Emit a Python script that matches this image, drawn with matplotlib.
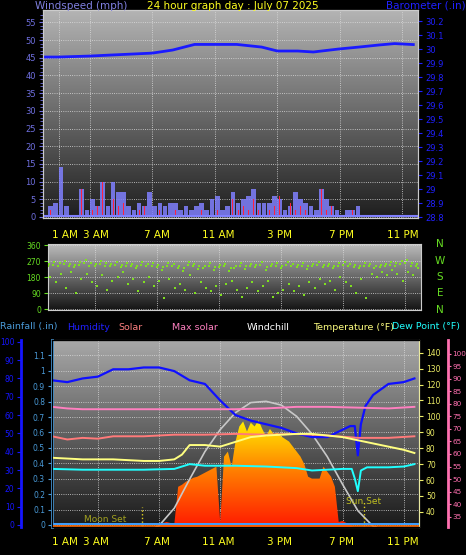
import matplotlib
matplotlib.use("Agg")
import matplotlib.pyplot as plt
import numpy as np
from matplotlib.colors import LinearSegmentedColormap

# ---------------- data ----------------
wind_hours = [i / 3 for i in range(72)]
wind_avg = [0, 3, 4, 14, 3, 0, 0, 8, 2, 5, 3, 10, 3, 10, 7, 7, 3, 2, 4, 3, 7, 3, 4, 3,
            4, 4, 2, 3, 2, 3, 4, 2, 5, 6, 2, 3, 7, 4, 5, 6, 8, 4, 4, 4, 6, 5, 2, 3,
            7, 5, 4, 3, 2, 8, 5, 3, 2, 0, 2, 2, 3, 0, 0, 0, 0, 0, 0, 0, 0, 0, 0, 0]
wind_gust = [0, 2, 0, 7, 0, 0, 0, 8, 0, 2, 3, 10, 0, 5, 3, 4, 0, 0, 2, 3, 0, 0, 2, 0,
             0, 2, 0, 1, 0, 0, 2, 0, 3, 2, 0, 0, 5, 2, 3, 2, 5, 2, 0, 2, 3, 6, 0, 4,
             2, 3, 2, 0, 0, 8, 2, 3, 0, 0, 0, 2, 0, 0, 0, 0, 0, 0, 0, 0, 0, 0, 0, 0]
baro_hours = [0, 1, 3, 4.3, 7, 8.3, 9.7, 12.4, 14, 15, 16.3, 17.3, 18.9, 20.2, 21.5, 22.5, 23.7]
baro = [29.943, 29.943, 29.95, 29.957, 29.971, 29.993, 30.033, 30.033, 30.014,
        29.986, 29.986, 29.979, 30.0, 30.014, 30.029, 30.039, 30.032]

dir_a = [240, 250, 245, 255, 240, 235, 250, 260, 245, 240, 255, 245, 240, 250, 235, 245, 240, 230,
         250, 240, 245, 235, 220, 245, 240, 230, 215, 250, 240, 225, 230, 245, 220, 235, 240, 215,
         230, 245, 225, 240, 235, 250, 220, 240, 245, 230, 250, 240, 235, 245, 225, 240, 250, 235,
         240, 230, 245, 250, 240, 235, 230, 245, 240, 230, 235, 240, 250, 245, 255, 260, 245, 240]
dir_b = [180, 150, 200, 120, 210, 90, 170, 200, 150, 130, 190, 110, 160, 180, 210, 140, 170, 100,
         150, 180, 130, 160, 60, 170, 120, 140, 110, 190, 90, 150, 120, 100, 130, 80, 140, 160,
         110, 70, 120, 150, 100, 130, 160, 70, 90, 110, 140, 100, 130, 80, 150, 120, 170, 140,
         160, 110, 180, 150, 130, 90, 170, 60, 200, 180, 210, 190, 220, 200, 160, 210, 190, 230]

hum_hours = [0, 1, 2, 3, 4, 5, 6, 7, 8, 9, 10, 11, 12, 13, 14, 15, 16, 17, 18, 19,
             19.5, 19.8, 20.0, 20.2, 20.5, 21, 22, 23, 23.7]
humidity = [79, 78, 80, 81, 85, 85, 86, 86, 84, 79, 77, 68, 60, 57, 55, 53, 50, 48, 48, 52,
            54, 54, 38, 55, 65, 71, 77, 78, 80]
t_hours = [0, 2, 4, 6, 7, 8, 8.5, 9, 10, 11, 12, 13, 14, 15, 16, 17, 18, 19, 20, 21, 22, 23, 23.7]
temperature = [74, 73, 73, 72, 72, 73, 76, 82, 82, 81, 84, 87, 88, 88.5, 89, 89, 88, 87,
               85, 83, 81, 79, 77]
dew_hours = [0, 2, 4, 6, 8, 9, 10, 12, 14, 16, 17, 18, 19, 19.6, 19.8, 20.0, 20.2, 20.6, 22, 23, 23.7]
dewpoint = [67, 66.5, 66.5, 66.5, 67, 70, 69, 69, 68.5, 67.5, 66, 66.5, 67, 67, 61, 53, 66, 68, 68, 68.5, 70]
salmon_hours = [0, 1, 2, 3, 4, 6, 8, 10, 12, 14, 16, 18, 20, 22, 23.7]
salmon = [87.5, 85.5, 86.5, 86, 87.5, 87.5, 88.5, 88.5, 89, 88.5, 89, 88, 86.5, 86.5, 87.5]
pink_hours = [0, 1, 2, 4, 8, 12, 14, 16, 18, 20, 22, 23.7]
pink = [106, 105, 104.5, 104.5, 104.5, 104.5, 105, 106, 106, 105.5, 105, 106]

solar_hours = [6.75 + 0.25 * i for i in range(53)]
solar = [0, 16, 32, 40, 32, 24, 320, 336, 360, 376, 392, 400, 416, 432, 448, 464, 480, 40,
         560, 600, 480, 680, 800, 840, 760, 830, 800, 850, 780, 720, 780, 740, 750, 720, 700,
         680, 640, 600, 560, 500, 400, 385, 385, 385, 480, 440, 400, 320, 40, 48, 32, 16, 0]
maxsol_hours = [6.8, 7, 8, 9, 10, 11, 12, 13, 14, 15, 16, 17, 18, 19, 20, 21, 21.2]
maxsolar = [0, 10, 150, 380, 600, 775, 910, 990, 1000, 970, 880, 740, 560, 340, 130, 5, 0]

tick_hours = [1, 3, 7, 11, 15, 19, 23]
tick_labels = ["1 AM", "3 AM", "7 AM", "11 AM", "3 PM", "7 PM", "11 PM"]

# ---------------- figure ----------------
W, H = 466, 555
fig = plt.figure(figsize=(W / 100, H / 100), dpi=100, facecolor="black")

def fx(px): return px / W
def fy(py): return 1 - py / H

def panel(x0, y0, x1, y1, top, bot):
    ax = fig.add_axes([fx(x0), fy(y1), fx(x1 - x0), (y1 - y0) / H])
    ax.set_facecolor("black")
    g = np.linspace(0, 1, 256).reshape(-1, 1)
    cm = LinearSegmentedColormap.from_list("g", [top, bot])
    ax.imshow(g, aspect="auto", cmap=cm, extent=[0, 1, 0, 1], transform=ax.transAxes, zorder=0)
    ax.set_xlim(0, 24)
    for s in ax.spines.values():
        s.set_color("#cccccc")
    ax.set_xticks([3, 7, 11, 15, 19, 23])
    ax.grid(True, axis="x", color="#dddddd", ls=":", lw=0.6)
    ax.tick_params(axis="x", length=0, labelbottom=False)
    return ax

fs = 7.5
tfs = 6
# ---- top panel ----
ax1 = panel(43, 10, 418, 218, "#b4b4b4", "#1e1e1e")
ax1.set_ylim(-0.3, 58.5)
ax1.set_yticks(range(0, 56, 5))
ax1.set_yticks(range(0, 58), minor=True)
ax1.tick_params(axis="y", colors="#6f6fdf", labelsize=tfs, length=3, pad=2)
ax1.tick_params(axis="y", which="minor", length=2, colors="#6f6fdf")
ax1.grid(True, axis="y", color="#dddddd", ls=":", lw=0.6)
ax1.bar(wind_hours, wind_avg, width=0.3, align="edge", color="#8080ff", alpha=0.85, zorder=2)
ax1.bar([h + 0.12 for h in wind_hours], wind_gust, width=0.06, align="edge", color="#ff2040", zorder=3)
ax1.axhline(0.3, color="#8080ff", lw=1.5, zorder=3)
ax1b = ax1.twinx()
ax1b.set_ylim(28.793, 30.279)
ax1b.set_yticks([28.8 + 0.1 * i for i in range(15)])
ax1b.set_yticklabels([f"{28.8 + 0.1 * i:.1f}".rstrip("0").rstrip(".") for i in range(15)])
ax1b.tick_params(axis="y", colors="#2020ff", labelsize=tfs, length=3, pad=2)
ax1b.plot(baro_hours, baro, color="#1a1aff", lw=2)
for s in ax1b.spines.values():
    s.set_color("#cccccc")
ax1.set_xticks(tick_hours)
fig.text(fx(35), fy(6), "Windspeed (mph)", color="#8080e0", fontsize=fs, va="center")
fig.text(fx(233), fy(6), "24 hour graph day : July 07 2025", color="#ffff20", fontsize=fs, ha="center", va="center")
fig.text(fx(466), fy(6), "Barometer (.in)", color="#2020ff", fontsize=fs, ha="right", va="center")
for h, l in zip(tick_hours, tick_labels):
    fig.text(fx(50 + h * 15.33), fy(235), l, color="#ffff20", fontsize=fs, ha="center", va="center")
ax1.grid(True, axis="x", color="#dddddd", ls=":", lw=0.6)

# ---- middle panel ----
ax2 = panel(48, 244, 421, 310, "#bcbcbc", "#141414")
ax2.set_ylim(-5, 366)
ax2.set_yticks([0, 90, 180, 270, 360])
ax2.tick_params(axis="y", colors="#66dd22", labelsize=5.5, length=3, pad=2)
ax2.grid(True, axis="y", color="#dddddd", ls=":", lw=0.6)
ax2.scatter(wind_hours, dir_a, s=3, marker="s", color="#7fe020", zorder=3, lw=0)
ax2.scatter([h + 0.15 for h in wind_hours], dir_b, s=3, marker="s", color="#7fe020", zorder=3, lw=0)
ax2.scatter([h + 0.08 for h in wind_hours], [d + 15 for d in dir_a], s=3, marker="s", color="#7fe020", zorder=3, lw=0)
for i, l in enumerate(["N", "W", "S", "E", "N"]):
    fig.text(fx(440), fy(244 + i * 16.5), l, color="#66dd22", fontsize=fs, ha="center", va="center")

# ---- bottom panel ----
ax3 = panel(52, 340, 419, 527, "#a8a8a8", "#1a1a1a")
ax3.set_ylim(-0.013, 1.2)
ax3.set_yticks([0.1 * i for i in range(12)])
ax3.set_yticklabels([f"{0.1 * i:.1f}".rstrip("0").rstrip(".") for i in range(12)])
ax3.tick_params(axis="y", colors="#4a9ad8", labelsize=5.5, length=3, pad=2)
ax3.spines["left"].set_color("#4a9ad8")
ax3.spines["left"].set_linewidth(2)
ax3.grid(True, axis="y", color="#dddddd", ls=":", lw=0.6)

axs = ax3.twinx()
axs.axis("off")
poly = axs.fill_between(solar_hours, solar, 0, color="none", lw=0)
grad = np.linspace(0, 1, 256).reshape(-1, 1)
scm = LinearSegmentedColormap.from_list("s", ["#ff1a00", "#ff8000", "#ffff00"])
im = axs.imshow(grad, aspect="auto", cmap=scm, extent=[0, 24, 0, 900], origin="lower", zorder=2)
im.set_clip_path(poly.get_paths()[0], transform=axs.transData)
axs.set_xlim(0, 24)
axs.set_ylim(0, 1488)
axs.plot(maxsol_hours, maxsolar, color="#c8c8c8", lw=1.2, zorder=3)

axh = ax3.twinx()
axh.set_ylim(-1.1, 101)
axh.yaxis.set_ticks_position("left")
axh.spines["left"].set_position(("outward", 22))
axh.spines["left"].set_visible(True)
axh.spines["left"].set_color("#1515ff")
axh.spines["left"].set_linewidth(2)
axh.spines["right"].set_visible(False)
axh.set_yticks(range(0, 101, 10))
axh.tick_params(axis="y", colors="#1515ff", labelsize=5.5, length=3, pad=2)
axh.plot(hum_hours, humidity, color="#1010ff", lw=1.6, zorder=5)

axt = ax3.twinx()
axt.set_ylim(30.5, 148)
axt.set_yticks(range(40, 141, 10))
axt.tick_params(axis="y", colors="#eeee66", labelsize=5.5, length=3, pad=2)
axt.spines["right"].set_color("#e8e8a0")
axt.plot(salmon_hours, salmon, color="#ff7a7a", lw=1.4, zorder=4)
axt.plot(pink_hours, pink, color="#ff80c0", lw=1.4, zorder=4)
axt.plot(t_hours, temperature, color="#ffff80", lw=1.4, zorder=4)
axt.plot(dew_hours, dewpoint, color="#20ffff", lw=1.4, zorder=4)
axt.axhline(31.3, color="#ff6a00", lw=1.2, zorder=4)
axt.axhline(32.2, color="#40a0ff", lw=1.4, zorder=4)
axt.vlines([5.9, 20.4], 31, [43, 47], colors="#e0d020", ls=":", lw=1)
axt.text(2.1, 32.5, "Moon Set", color="#a0a020", fontsize=6.5, va="bottom")
axt.text(19.2, 43.5, "Sun Set", color="#c0c020", fontsize=6.5, va="bottom")

axp = ax3.twinx()
axp.set_ylim(30.9, 105.4)
axp.spines["right"].set_position(("outward", 21))
axp.spines["right"].set_color("#ff70b0")
axp.spines["right"].set_linewidth(2)
axp.set_yticks(range(35, 101, 5))
axp.tick_params(axis="y", colors="#ff70b0", labelsize=5.2, length=2, pad=1)

for h, l in zip(tick_hours, tick_labels):
    fig.text(fx(50 + h * 15.33), fy(542), l, color="#ffff20", fontsize=fs, ha="center", va="center")

hdr = [(0, "Rainfall (.in)", "#4a9ad8"), (67, "Humidity", "#2020ff"), (118, "Solar", "#ff8080"),
       (172, "Max solar", "#ff80c0"), (247, "Windchill", "#ffffff"),
       (313, "Temperature (°F)", "#ffff80"), (392, "Dew Point (°F)", "#20ffff")]
for x, t, c in hdr:
    fig.text(fx(x), fy(327), t, color=c, fontsize=6.8, va="center")

fig.savefig("out.png", dpi=100, facecolor="black")
